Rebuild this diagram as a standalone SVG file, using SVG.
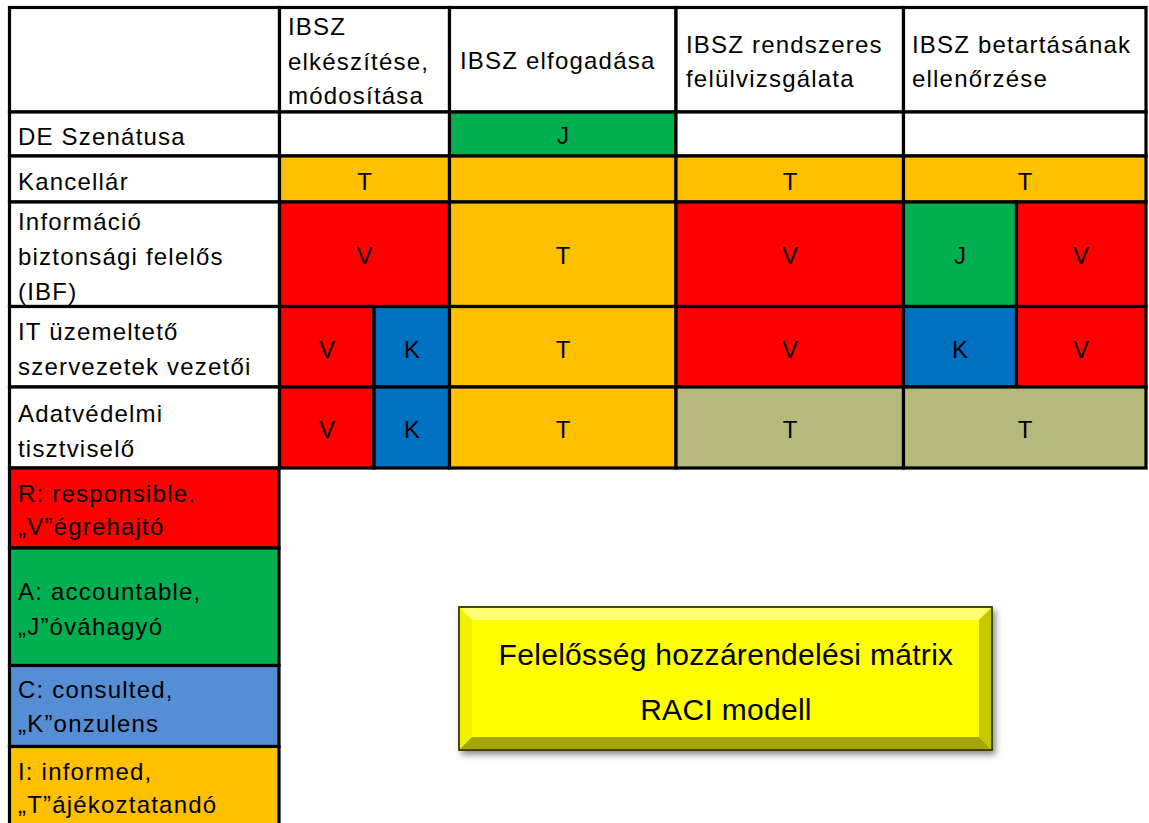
<svg xmlns="http://www.w3.org/2000/svg" width="1149" height="823" viewBox="0 0 1149 823">
<defs>
<style>
.t{font-family:"Liberation Sans",Arial,sans-serif;font-size:24px;fill:#000;letter-spacing:1.2px}
.c{font-family:"Liberation Sans",Arial,sans-serif;font-size:24px;fill:#000;text-anchor:middle}
.b{font-family:"Liberation Sans",Arial,sans-serif;font-size:30px;fill:#000;text-anchor:middle;letter-spacing:0.3px}
.cell{stroke:#000;stroke-width:3.2}
.w{fill:#fff}.r{fill:#ff0000}.g{fill:#00b050}.k{fill:#0070c0}.o{fill:#ffc000}.v{fill:#b5ba7c}.lb{fill:#558ed5}
</style>
<filter id="sh" x="-5%" y="-10%" width="115%" height="130%">
<feDropShadow dx="3" dy="4" stdDeviation="3" flood-color="#000" flood-opacity="0.45"/>
</filter>
</defs>
<rect width="1149" height="823" fill="#fff"/>

<g id="header">
<g id="h0"><rect class="cell w" x="9.5" y="7.5" width="270" height="104.5"/></g>
<g id="h1"><rect class="cell w" x="279.5" y="7.5" width="170" height="104.5"/>
<text class="t" x="288" y="35">IBSZ</text><text class="t" x="288" y="70">elkészítése,</text><text class="t" x="288" y="104">módosítása</text></g>
<g id="h2"><rect class="cell w" x="449.5" y="7.5" width="226.5" height="104.5"/>
<text class="t" x="460" y="69">IBSZ elfogadása</text></g>
<g id="h3"><rect class="cell w" x="676" y="7.5" width="227.5" height="104.5"/>
<text class="t" x="686" y="53">IBSZ rendszeres</text><text class="t" x="686" y="87">felülvizsgálata</text></g>
<g id="h4"><rect class="cell w" x="903.5" y="7.5" width="242.5" height="104.5"/>
<text class="t" x="912" y="53">IBSZ betartásának</text><text class="t" x="912" y="87">ellenőrzése</text></g>
</g>

<g id="row-szenatus">
<g id="r1-label"><rect class="cell w" x="9.5" y="112" width="270" height="44"/><text class="t" x="18" y="145">DE Szenátusa</text></g>
<g id="r1-c1"><rect class="cell w" x="279.5" y="112" width="170" height="44"/></g>
<g id="r1-c2"><rect class="cell g" x="449.5" y="112" width="226.5" height="44"/><text class="c" x="563" y="144">J</text></g>
<g id="r1-c3"><rect class="cell w" x="676" y="112" width="227.5" height="44"/></g>
<g id="r1-c4"><rect class="cell w" x="903.5" y="112" width="242.5" height="44"/></g>
</g>

<g id="row-kancellar">
<g id="r2-label"><rect class="cell w" x="9.5" y="156" width="270" height="46"/><text class="t" x="18" y="190">Kancellár</text></g>
<g id="r2-c1"><rect class="cell o" x="279.5" y="156" width="170" height="46"/><text class="c" x="364.5" y="190">T</text></g>
<g id="r2-c2"><rect class="cell o" x="449.5" y="156" width="226.5" height="46"/></g>
<g id="r2-c3"><rect class="cell o" x="676" y="156" width="227.5" height="46"/><text class="c" x="790" y="190">T</text></g>
<g id="r2-c4"><rect class="cell o" x="903.5" y="156" width="242.5" height="46"/><text class="c" x="1025" y="190">T</text></g>
</g>

<g id="row-ibf">
<g id="r3-label"><rect class="cell w" x="9.5" y="202" width="270" height="104.5"/>
<text class="t" x="18" y="230">Információ</text><text class="t" x="18" y="265">biztonsági felelős</text><text class="t" x="18" y="300">(IBF)</text></g>
<g id="r3-c1"><rect class="cell r" x="279.5" y="202" width="170" height="104.5"/><text class="c" x="364.5" y="264">V</text></g>
<g id="r3-c2"><rect class="cell o" x="449.5" y="202" width="226.5" height="104.5"/><text class="c" x="563" y="264">T</text></g>
<g id="r3-c3"><rect class="cell r" x="676" y="202" width="227.5" height="104.5"/><text class="c" x="790" y="264">V</text></g>
<g id="r3-c4a"><rect class="cell g" x="903.5" y="202" width="113" height="104.5"/><text class="c" x="960" y="264">J</text></g>
<g id="r3-c4b"><rect class="cell r" x="1016.5" y="202" width="129.5" height="104.5"/><text class="c" x="1081" y="264">V</text></g>
</g>

<g id="row-it">
<g id="r4-label"><rect class="cell w" x="9.5" y="306.5" width="270" height="80.5"/>
<text class="t" x="18" y="340">IT üzemeltető</text><text class="t" x="18" y="375">szervezetek vezetői</text></g>
<g id="r4-c1a"><rect class="cell r" x="279.5" y="306.5" width="94.5" height="80.5"/><text class="c" x="327" y="358">V</text></g>
<g id="r4-c1b"><rect class="cell k" x="374" y="306.5" width="75.5" height="80.5"/><text class="c" x="412" y="358">K</text></g>
<g id="r4-c2"><rect class="cell o" x="449.5" y="306.5" width="226.5" height="80.5"/><text class="c" x="563" y="358">T</text></g>
<g id="r4-c3"><rect class="cell r" x="676" y="306.5" width="227.5" height="80.5"/><text class="c" x="790" y="358">V</text></g>
<g id="r4-c4a"><rect class="cell k" x="903.5" y="306.5" width="113" height="80.5"/><text class="c" x="960" y="358">K</text></g>
<g id="r4-c4b"><rect class="cell r" x="1016.5" y="306.5" width="129.5" height="80.5"/><text class="c" x="1081" y="358">V</text></g>
</g>

<g id="row-adat">
<g id="r5-label"><rect class="cell w" x="9.5" y="387" width="270" height="81"/>
<text class="t" x="18" y="422">Adatvédelmi</text><text class="t" x="18" y="457">tisztviselő</text></g>
<g id="r5-c1a"><rect class="cell r" x="279.5" y="387" width="94.5" height="81"/><text class="c" x="327" y="438">V</text></g>
<g id="r5-c1b"><rect class="cell k" x="374" y="387" width="75.5" height="81"/><text class="c" x="412" y="438">K</text></g>
<g id="r5-c2"><rect class="cell o" x="449.5" y="387" width="226.5" height="81"/><text class="c" x="563" y="438">T</text></g>
<g id="r5-c3"><rect class="cell v" x="676" y="387" width="227.5" height="81"/><text class="c" x="790" y="438">T</text></g>
<g id="r5-c4"><rect class="cell v" x="903.5" y="387" width="242.5" height="81"/><text class="c" x="1025" y="438">T</text></g>
</g>

<g id="legend">
<g id="leg-r"><rect class="cell r" x="9.5" y="468" width="269.5" height="80"/>
<text class="t" x="18" y="502">R: responsible.</text><text class="t" x="18" y="535">„V”égrehajtó</text></g>
<g id="leg-a"><rect class="cell g" x="9.5" y="548" width="269.5" height="117.5"/>
<text class="t" x="18" y="600">A: accountable,</text><text class="t" x="18" y="635">„J”óváhagyó</text></g>
<g id="leg-c"><rect class="cell lb" x="9.5" y="665.5" width="269.5" height="81"/>
<text class="t" x="18" y="698">C: consulted,</text><text class="t" x="18" y="732">„K”onzulens</text></g>
<g id="leg-i"><rect class="cell o" x="9.5" y="746.5" width="269.5" height="90"/>
<text class="t" x="18" y="780">I: informed,</text><text class="t" x="18" y="813">„T”ájékoztatandó</text></g>
</g>

<g id="title-box">
<g filter="url(#sh)">
<rect x="459" y="607" width="533" height="143" fill="#ffff00" stroke="#3a3a00" stroke-width="1.5"/>
</g>
<polygon points="459.75,607.75 991.25,607.75 979,620 472,620" fill="#ffff70"/>
<polygon points="459.75,607.75 472,620 472,737 459.75,749.25" fill="#f2f200"/>
<polygon points="991.25,607.75 991.25,749.25 979,737 979,620" fill="#c8c800"/>
<polygon points="459.75,749.25 472,737 979,737 991.25,749.25" fill="#a6a600"/>
<rect x="459" y="607" width="533" height="143" fill="none" stroke="#3a3a00" stroke-width="1.5"/>
<text class="b" x="726" y="665">Felelősség hozzárendelési mátrix</text>
<text class="b" x="726" y="720">RACI modell</text>
</g>
</svg>
